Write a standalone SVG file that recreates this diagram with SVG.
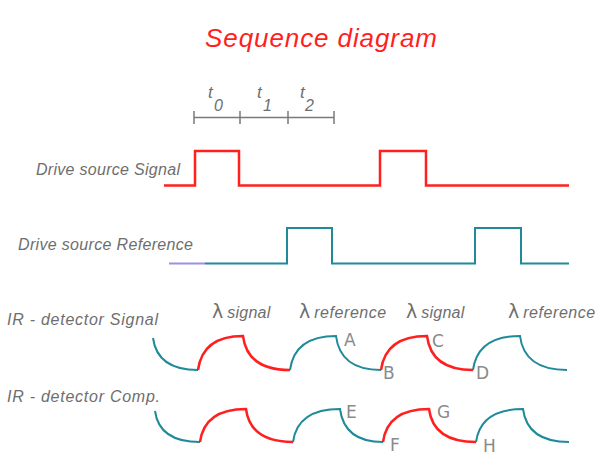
<svg xmlns="http://www.w3.org/2000/svg" width="601" height="457" viewBox="0 0 601 457">
<style>
.lbl{font-family:"Liberation Sans",Arial,sans-serif;font-style:italic;fill:#6e6e6e;font-size:16px}
.sm{font-family:"Liberation Sans",Arial,sans-serif;font-style:italic;fill:#6e6e6e;font-size:16px}
.lam{font-family:"DejaVu Sans",sans-serif;font-style:normal;fill:#6e6e6e;font-size:19px}
.let{font-family:"DejaVu Sans",sans-serif;fill:#8a8a8a;font-size:17px}
.red{fill:none;stroke:#ff1f1f;stroke-width:2.5}
.teal{fill:none;stroke:#1f8a98;stroke-width:2}
.scale{fill:none;stroke:#7a7a7a;stroke-width:1.5}
</style>
<rect width="601" height="457" fill="#fff"/>
<text x="321" y="47" text-anchor="middle" style="font-family:'Liberation Sans',Arial,sans-serif;font-style:italic;font-size:26px;fill:#ff1f1f" textLength="232">Sequence diagram</text>
<g id="timescale">
<path class="scale" d="M194,117.5H334M194,111V124M240,111V124M288,111V124M334,111V124"/>
<text class="sm" x="208" y="98" style="font-size:17px">t</text><text class="sm" x="214" y="111" style="font-size:16px">0</text>
<text class="sm" x="257" y="98" style="font-size:17px">t</text><text class="sm" x="263" y="111" style="font-size:16px">1</text>
<text class="sm" x="300" y="98" style="font-size:17px">t</text><text class="sm" x="305" y="111" style="font-size:16px">2</text>
</g>
<g id="drive-signal">
<text class="lbl" x="36" y="175" textLength="144">Drive source Signal</text>
<path class="red" d="M164,185.5H195V151H239V185.5H380V151H426V185.5H569"/>
</g>
<g id="drive-reference">
<text class="lbl" x="18" y="250" textLength="175">Drive source Reference</text>
<path d="M169,263.5H205" fill="none" stroke="#a090e0" stroke-width="2"/>
<path class="teal" d="M205,263.5H287V228H332V263.5H475V228H521V263.5H569"/>
</g>
<g id="ir-signal">
<text class="lbl" x="7" y="325" textLength="151">IR - detector Signal</text>
<text x="212" y="318"><tspan class="lam">λ</tspan><tspan class="sm" dx="4" textLength="43">signal</tspan></text>
<text x="299" y="318"><tspan class="lam">λ</tspan><tspan class="sm" dx="4" textLength="72">reference</tspan></text>
<text x="406" y="318"><tspan class="lam">λ</tspan><tspan class="sm" dx="4" textLength="43">signal</tspan></text>
<text x="508" y="318"><tspan class="lam">λ</tspan><tspan class="sm" dx="4" textLength="72">reference</tspan></text>
<path class="teal" d="M153,338C156,360 172,370 198,370"/>
<path class="red" d="M198,370C201,348 216,336 243,336C246,360 263,370 290,370"/>
<path class="teal" d="M290,370C293,348 308,336 336,336C339,360 356,370 381,370"/>
<path class="red" d="M381,370C384,348 399,336 427,336C430,360 447,370 473,370"/>
<path class="teal" d="M473,370C476,348 491,336 520,336C523,360 540,370 567,370"/>
<text class="let" x="344" y="346">A</text>
<text class="let" x="383" y="379">B</text>
<text class="let" x="432" y="347">C</text>
<text class="let" x="476" y="379">D</text>
</g>
<g id="ir-comp">
<text class="lbl" x="7" y="402" textLength="153">IR - detector Comp.</text>
<path class="teal" d="M155,411C158,433 174,442 200,442"/>
<path class="red" d="M200,442C203,420 218,409 246,409C249,432 266,442 293,442"/>
<path class="teal" d="M293,442C296,420 311,409 340,409C343,432 358,442 383,442"/>
<path class="red" d="M383,442C386,420 401,409 429,409C432,432 449,442 476,442"/>
<path class="teal" d="M476,442C479,420 494,409 523,409C526,432 543,442 569,442"/>
<text class="let" x="346" y="418">E</text>
<text class="let" x="390" y="451">F</text>
<text class="let" x="437" y="418">G</text>
<text class="let" x="483" y="452">H</text>
</g>
</svg>
